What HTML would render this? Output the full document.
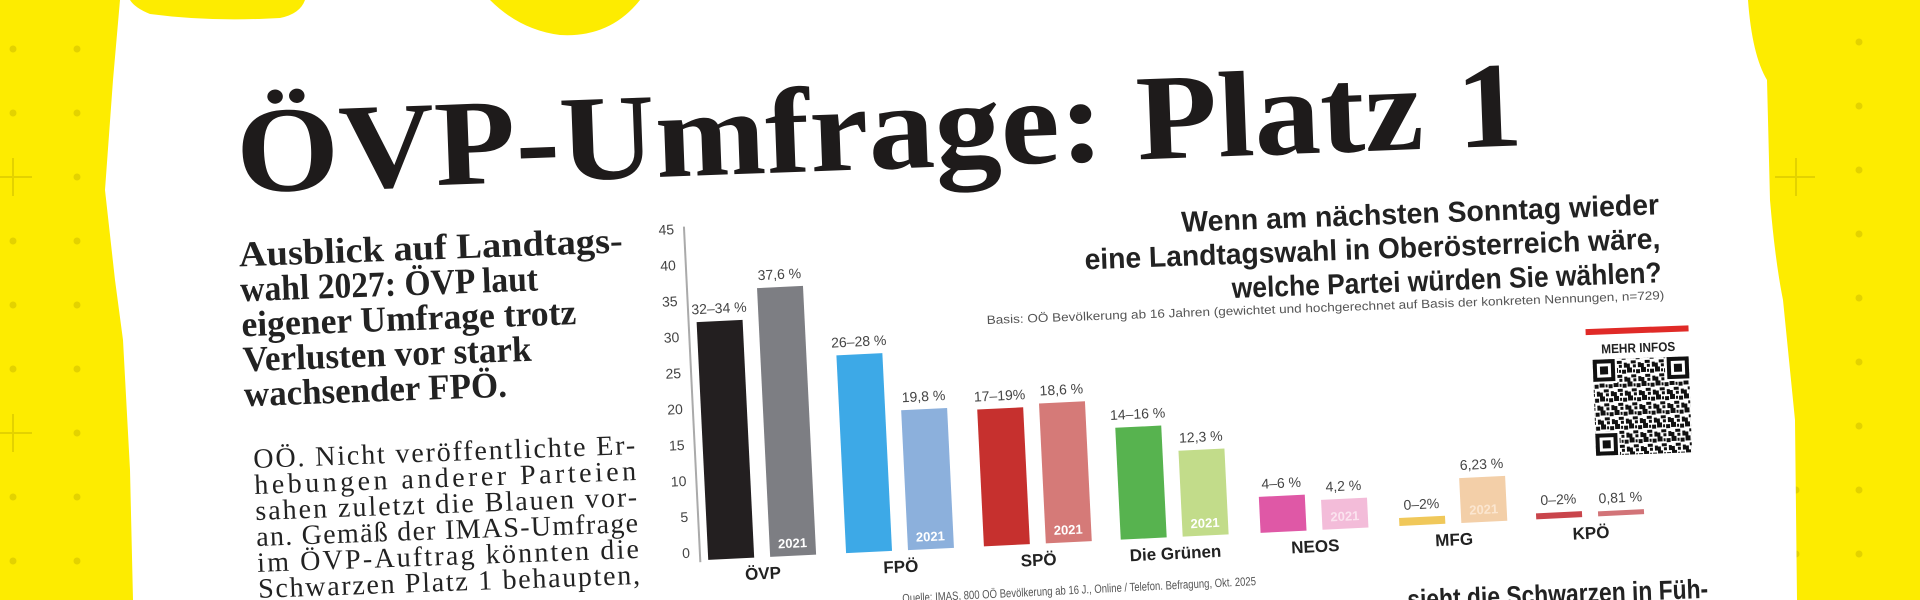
<!DOCTYPE html>
<html><head><meta charset="utf-8"><style>
html,body{margin:0;padding:0;width:1920px;height:600px;overflow:hidden;background:#fdec00}
svg{display:block}
</style></head><body>
<svg width="1920" height="600" viewBox="0 0 1920 600" xmlns="http://www.w3.org/2000/svg" style="position:absolute;left:0;top:0">
<defs>
<pattern id="qr" x="0" y="0" width="14" height="14" patternUnits="userSpaceOnUse">
<rect x="0" y="0" width="5" height="5" fill="#111"/><rect x="9" y="2" width="4" height="4" fill="#111"/>
<rect x="4" y="7" width="5" height="3" fill="#111"/><rect x="0" y="10" width="3" height="4" fill="#111"/>
<rect x="11" y="9" width="3" height="5" fill="#111"/><rect x="6" y="11" width="3" height="3" fill="#111"/>
<rect x="6" y="2" width="2" height="3" fill="#111"/>
</pattern>
</defs>
<rect width="1920" height="600" fill="#fdec00"/>
<g fill="#e3d200">
<circle cx="13" cy="49" r="3.5"/><circle cx="77" cy="49" r="3.5"/>
<circle cx="13" cy="113" r="3.5"/><circle cx="77" cy="113" r="3.5"/>
<circle cx="77" cy="177" r="3.5"/>
<circle cx="13" cy="241" r="3.5"/><circle cx="77" cy="241" r="3.5"/>
<circle cx="13" cy="305" r="3.5"/><circle cx="77" cy="305" r="3.5"/>
<circle cx="13" cy="369" r="3.5"/><circle cx="77" cy="369" r="3.5"/>
<circle cx="77" cy="433" r="3.5"/>
<circle cx="13" cy="497" r="3.5"/><circle cx="77" cy="497" r="3.5"/>
<circle cx="13" cy="561" r="3.5"/><circle cx="77" cy="561" r="3.5"/>
<circle cx="1859" cy="42" r="3.5"/><circle cx="1859" cy="106" r="3.5"/><circle cx="1859" cy="170" r="3.5"/>
<circle cx="1859" cy="234" r="3.5"/><circle cx="1859" cy="298" r="3.5"/><circle cx="1859" cy="362" r="3.5"/>
<circle cx="1859" cy="426" r="3.5"/><circle cx="1859" cy="490" r="3.5"/><circle cx="1859" cy="554" r="3.5"/>
<circle cx="1796" cy="490" r="3.5"/><circle cx="1796" cy="554" r="3.5"/>
</g>
<g stroke="#e3d200" stroke-width="2">
<path d="M0 177H32M13 158V196M0 433H32M13 414V452"/>
<path d="M1775 177H1815M1796 158V196"/>
</g>
<path d="M120 0 L490 0 Q520 30 560 35 Q610 38 640 0 L1748 0 Q1752 55 1767 80 L1770 200 Q1775 260 1783 300 L1795 420 L1797 600 L133 600 L130 470 L123 340 L115 280 L105 190 L113 80 Z" fill="#fff"/>
<path d="M130 0 L305 0 Q300 14 280 18 Q210 22 150 14 Q135 8 130 0Z" fill="#fdec00"/>

<g transform="rotate(-2.1 960 300)" fill="#1e1b1b">
<text x="242" y="166" font-family="Liberation Serif, serif" font-weight="bold" font-size="122" textLength="1287" lengthAdjust="spacingAndGlyphs">ÖVP-Umfrage: Platz 1</text>
<g font-family="Liberation Serif, serif" font-weight="bold" font-size="36" fill="#222">
<text x="241" y="240" textLength="384" lengthAdjust="spacingAndGlyphs">Ausblick auf Landtags-</text>
<text x="241" y="275" textLength="298" lengthAdjust="spacingAndGlyphs">wahl 2027: ÖVP laut</text>
<text x="241" y="310" textLength="335" lengthAdjust="spacingAndGlyphs">eigener Umfrage trotz</text>
<text x="241" y="345" textLength="289" lengthAdjust="spacingAndGlyphs">Verlusten vor stark</text>
<text x="241" y="380" textLength="263" lengthAdjust="spacingAndGlyphs">wachsender FPÖ.</text>
</g>
<g font-family="Liberation Serif, serif" font-size="28" fill="#222">
<text x="248" y="442" textLength="382" lengthAdjust="spacing">OÖ. Nicht veröffentlichte Er-</text>
<text x="248" y="468" textLength="382" lengthAdjust="spacing">hebungen anderer Parteien</text>
<text x="248" y="494" textLength="382" lengthAdjust="spacing">sahen zuletzt die Blauen vor-</text>
<text x="248" y="520" textLength="382" lengthAdjust="spacing">an. Gemäß der IMAS-Umfrage</text>
<text x="248" y="546" textLength="382" lengthAdjust="spacing">im ÖVP-Auftrag könnten die</text>
<text x="248" y="572" textLength="382" lengthAdjust="spacing">Schwarzen Platz 1 behaupten,</text>
</g>
<g font-family="Liberation Sans, sans-serif" font-weight="bold" font-size="29" fill="#222" text-anchor="end">
<text x="1662" y="240" textLength="478" lengthAdjust="spacingAndGlyphs">Wenn am nächsten Sonntag wieder</text>
<text x="1662" y="274" textLength="576" lengthAdjust="spacingAndGlyphs">eine Landtagswahl in Oberösterreich wäre,</text>
<text x="1662" y="308" textLength="430" lengthAdjust="spacingAndGlyphs">welche Partei würden Sie wählen?</text>
</g>
<text x="1664" y="325" text-anchor="end" font-family="Liberation Sans, sans-serif" font-size="12" fill="#555" textLength="678" lengthAdjust="spacingAndGlyphs">Basis: OÖ Bevölkerung ab 16 Jahren (gewichtet und hochgerechnet auf Basis der konkreten Nennungen, n=729)</text>
<rect x="1584" y="352" width="103" height="6" fill="#e02a27"/>
<text x="1636" y="377" text-anchor="middle" font-family="Liberation Sans, sans-serif" font-weight="bold" font-size="13" fill="#222" textLength="74" lengthAdjust="spacingAndGlyphs">MEHR INFOS</text>
<rect x="1590" y="383" width="96" height="96" fill="url(#qr)"/>
<g fill="#111">
<rect x="1590" y="383" width="24" height="24" fill="#fff"/><rect x="1590" y="383" width="22" height="22"/><rect x="1594" y="387" width="14" height="14" fill="#fff"/><rect x="1597" y="390" width="8" height="8"/>
<rect x="1662" y="383" width="24" height="24" fill="#fff"/><rect x="1664" y="383" width="22" height="22"/><rect x="1668" y="387" width="14" height="14" fill="#fff"/><rect x="1671" y="390" width="8" height="8"/>
<rect x="1590" y="455" width="24" height="24" fill="#fff"/><rect x="1590" y="457" width="22" height="22"/><rect x="1594" y="461" width="14" height="14" fill="#fff"/><rect x="1597" y="464" width="8" height="8"/>
</g>
<text x="1697" y="625" text-anchor="end" font-family="Liberation Sans, sans-serif" font-weight="bold" font-size="27" fill="#222" textLength="301" lengthAdjust="spacingAndGlyphs">sieht die Schwarzen in Füh-</text>
</g>

<g transform="rotate(-2.8 705 555)">
<line x1="700" y1="226" x2="700" y2="562" stroke="#aaa" stroke-width="2"/>
<g font-family="Liberation Sans, sans-serif" font-size="14" fill="#444" text-anchor="end">
<text x="690" y="233">45</text><text x="690" y="269">40</text><text x="690" y="305">35</text>
<text x="690" y="341">30</text><text x="690" y="377">25</text><text x="690" y="413">20</text>
<text x="690" y="449">15</text><text x="690" y="485">10</text><text x="690" y="521">5</text><text x="690" y="557">0</text>
</g>
<rect x="708" y="322" width="46" height="238" fill="#231f20"/>
<rect x="770" y="291" width="46" height="269" fill="#7d7e83"/>
<rect x="846" y="362" width="46" height="198" fill="#3da9e7"/>
<rect x="908" y="420" width="46" height="140" fill="#8cb0dc"/>
<rect x="984" y="423" width="46" height="137" fill="#c6302e"/>
<rect x="1046" y="420" width="46" height="140" fill="#d57a78"/>
<rect x="1121" y="448" width="46" height="112" fill="#57b34f"/>
<rect x="1183" y="474" width="46" height="86" fill="#c2dc8a"/>
<rect x="1261" y="524" width="46" height="36" fill="#df58a6"/>
<rect x="1323" y="530" width="46" height="30" fill="#f3bcd9"/>
<rect x="1400" y="552" width="46" height="8" fill="#f0c85a"/>
<rect x="1462" y="515" width="46" height="45" fill="#f3cfa8"/>
<rect x="1537" y="554" width="46" height="6" fill="#c9454b"/>
<rect x="1599" y="555" width="46" height="5" fill="#d27478"/>
<g font-family="Liberation Sans, sans-serif" font-size="14" fill="#444" text-anchor="middle">
<text x="731" y="314">32–34 %</text><text x="793" y="283">37,6 %</text>
<text x="869" y="354">26–28 %</text><text x="931" y="412">19,8 %</text>
<text x="1007" y="415">17–19%</text><text x="1069" y="412">18,6 %</text>
<text x="1144" y="440">14–16 %</text><text x="1206" y="466">12,3 %</text>
<text x="1284" y="516">4–6 %</text><text x="1346" y="522">4,2 %</text>
<text x="1423" y="544">0–2%</text><text x="1485" y="507">6,23 %</text>
<text x="1560" y="546">0–2%</text><text x="1622" y="547">0,81 %</text>
</g>
<g font-family="Liberation Sans, sans-serif" font-size="13" fill="#fff" text-anchor="middle" font-weight="bold">
<text x="793" y="552">2021</text><text x="931" y="552">2021</text><text x="1069" y="552">2021</text>
<text x="1206" y="552">2021</text><text x="1346" y="552" fill="#fbe3ef">2021</text><text x="1485" y="552" fill="#fbe6d0">2021</text>
</g>
<g font-family="Liberation Sans, sans-serif" font-size="17" font-weight="bold" fill="#222" text-anchor="middle">
<text x="762" y="582">ÖVP</text><text x="900" y="582">FPÖ</text><text x="1038" y="582">SPÖ</text>
<text x="1175" y="582">Die Grünen</text><text x="1315" y="582">NEOS</text><text x="1454" y="582">MFG</text><text x="1591" y="582">KPÖ</text>
</g>
<text x="1254" y="612" text-anchor="end" font-family="Liberation Sans, sans-serif" font-size="12" fill="#555" textLength="354" lengthAdjust="spacingAndGlyphs">Quelle: IMAS, 800 OÖ Bevölkerung ab 16 J., Online / Telefon. Befragung, Okt. 2025</text>
</g>
</svg>
</body></html>
